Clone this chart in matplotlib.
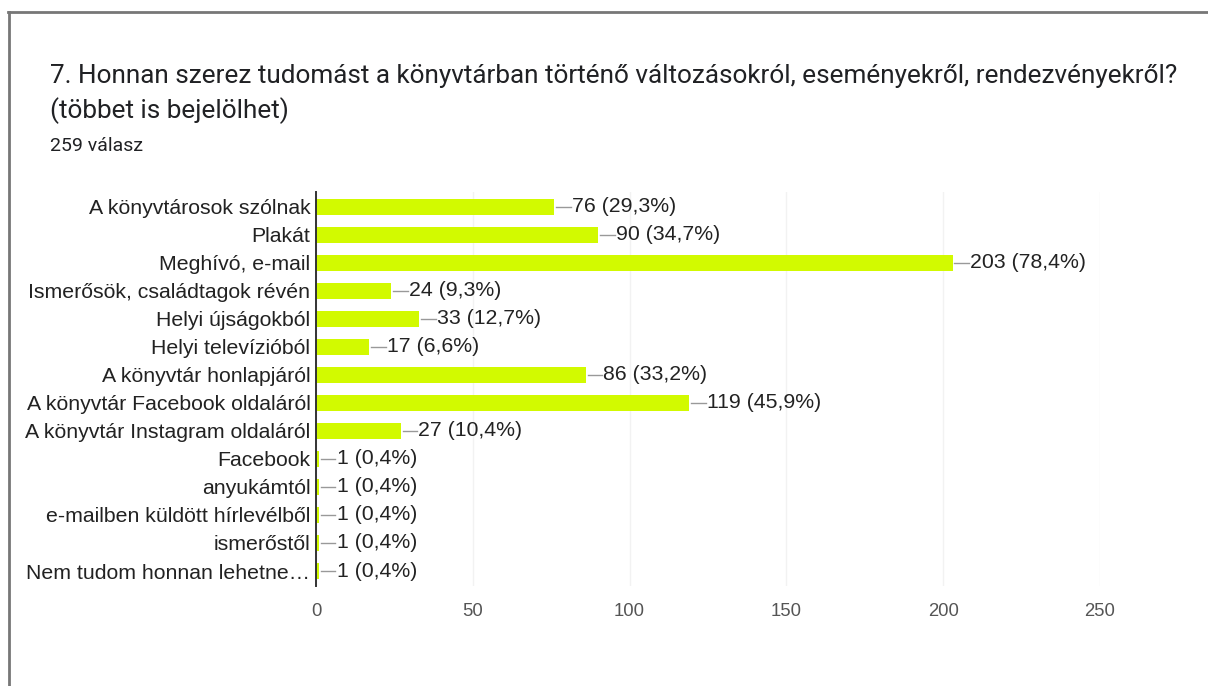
import matplotlib

matplotlib.use("Agg")
import matplotlib.pyplot as plt
from matplotlib.lines import Line2D

TITLE = ("7. Honnan szerez tudomást a könyvtárban történő változásokról, "
         "eseményekről, rendezvényekről?\n(többet is bejelölhet)")
SUBTITLE = "259 válasz"

categories = [
    "A könyvtárosok szólnak",
    "Plakát",
    "Meghívó, e-mail",
    "Ismerősök, családtagok révén",
    "Helyi újságokból",
    "Helyi televízióból",
    "A könyvtár honlapjáról",
    "A könyvtár Facebook oldaláról",
    "A könyvtár Instagram oldaláról",
    "Facebook",
    "anyukámtól",
    "e-mailben küldött hírlevélből",
    "ismerőstől",
    "Nem tudom honnan lehetne…",
]
counts = [76, 90, 203, 24, 33, 17, 86, 119, 27, 1, 1, 1, 1, 1]
percents = ["29,3", "34,7", "78,4", "9,3", "12,7", "6,6", "33,2", "45,9",
            "10,4", "0,4", "0,4", "0,4", "0,4", "0,4"]
xticks = [0, 50, 100, 150, 200, 250]

BAR = "#d2fa00"
TEXT = "#222222"
TICK = "#555555"

fig = plt.figure(figsize=(12.08, 6.86), dpi=100)
ax = fig.add_axes([0.2616, 0.146, 0.649, 0.574])

y = list(range(len(categories)))
ax.barh(y, counts, height=0.56, color=BAR, zorder=3)
for yi, c, p in zip(y, counts, percents):
    ax.plot([c + 0.6, c + 5.2], [yi, yi], color="#999999", lw=1.0, zorder=3)
    ax.text(c + 5.6, yi, f"{c} ({p}%)", va="center", ha="left",
            fontsize=15.3, color=TEXT, family="Liberation Sans")

ax.set_ylim(len(categories) - 0.47, -0.53)
ax.set_xlim(0, 250)
ax.set_yticks(y)
ax.set_yticklabels(categories, fontsize=15.3, color=TEXT,
                   family="Liberation Sans")
ax.set_xticks(xticks)
ax.set_xticklabels([str(t) for t in xticks], fontsize=13.3, color=TICK,
                   family="Liberation Sans")
ax.tick_params(axis="both", length=0)
ax.tick_params(axis="x", pad=12)
ax.tick_params(axis="y", pad=4)
ax.grid(axis="x", color="#f2f2f2", lw=1.0, zorder=0)
for s in ("top", "right", "bottom"):
    ax.spines[s].set_visible(False)
ax.spines["left"].set_color("#333333")
ax.spines["left"].set_linewidth(1.4)
ax.spines["left"].set_zorder(4)

fig.text(50 / 1208, 1 - 64 / 686, TITLE, fontsize=18.8, color="#202124",
         family="Roboto", va="top", ha="left", linespacing=1.45)
fig.text(50 / 1208, 1 - 146 / 686, SUBTITLE, fontsize=14, color="#202124",
         family="Roboto", va="center", ha="left")

# card border (top and left edges visible)
fig.add_artist(Line2D([8 / 1208, 1], [1 - 12 / 686, 1 - 12 / 686],
                      transform=fig.transFigure, color="#777777", lw=2))
fig.add_artist(Line2D([9 / 1208, 9 / 1208], [0, 1 - 12 / 686],
                      transform=fig.transFigure, color="#777777", lw=2))

fig.savefig("out.png", dpi=100)
